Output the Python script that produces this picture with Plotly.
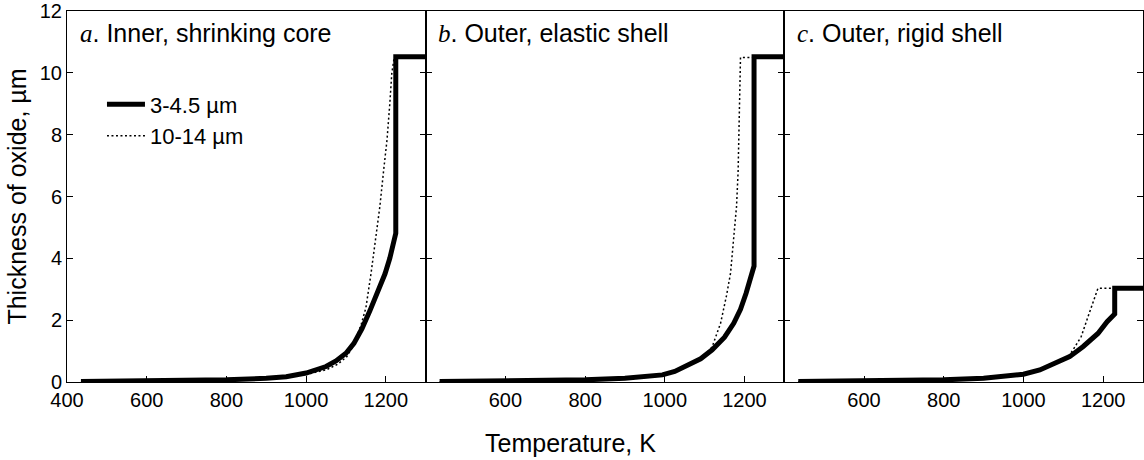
import plotly.graph_objects as go

# ---------------- data ----------------
# Panel a: Inner, shrinking core
a_small_T = [435, 600, 700, 800, 900, 950, 1000, 1025, 1050, 1075, 1100, 1120, 1140, 1160, 1180, 1198, 1210, 1217, 1225, 1225, 1300]
a_small_y = [0.02, 0.03, 0.04, 0.07, 0.12, 0.17, 0.29, 0.38, 0.50, 0.68, 0.93, 1.25, 1.72, 2.3, 2.95, 3.5, 4.0, 4.38, 4.81, 10.52, 10.52]
a_large_T = [435, 600, 800, 900, 1000, 1052, 1080, 1102, 1120, 1139, 1150, 1163, 1175, 1185, 1195, 1203, 1210, 1215, 1221, 1300]
a_large_y = [0.01, 0.02, 0.05, 0.10, 0.24, 0.40, 0.58, 0.82, 1.2, 1.9, 2.4, 3.52, 4.6, 5.67, 6.9, 7.83, 9.0, 9.98, 10.5, 10.5]

# Panel b: Outer, elastic shell
b_small_T = [435, 600, 800, 900, 994, 1025, 1052, 1090, 1119, 1150, 1173, 1190, 1204, 1215, 1224, 1224, 1300]
b_small_y = [0.02, 0.03, 0.07, 0.12, 0.23, 0.34, 0.50, 0.75, 1.04, 1.45, 1.9, 2.35, 2.87, 3.35, 3.75, 10.52, 10.52]
b_large_T = [435, 600, 800, 900, 1000, 1050, 1100, 1119, 1140, 1155, 1165, 1173, 1180, 1184, 1186, 1188, 1190, 1224]
b_large_y = [0.01, 0.02, 0.06, 0.11, 0.23, 0.48, 0.85, 1.14, 1.9, 2.8, 3.52, 4.6, 5.67, 6.8, 7.83, 9.0, 10.5, 10.5]

# Panel c: Outer, rigid shell
c_small_T = [435, 600, 800, 900, 1000, 1041, 1080, 1116, 1150, 1170, 1187, 1210, 1229, 1229, 1300]
c_small_y = [0.02, 0.03, 0.07, 0.12, 0.25, 0.39, 0.60, 0.82, 1.15, 1.36, 1.57, 1.95, 2.2, 3.03, 3.03]
c_large_T = [435, 600, 800, 900, 1000, 1041, 1080, 1110, 1124, 1145, 1162, 1175, 1187, 1229]
c_large_y = [0.01, 0.02, 0.06, 0.11, 0.24, 0.38, 0.58, 0.78, 1.03, 1.47, 2.11, 2.6, 3.03, 3.03]

series_names = ["3-4.5 µm", "10-14 µm"]
panel_titles = ["<i><span style='font-family:Liberation Serif'>a</span></i>. Inner, shrinking core",
                "<i><span style='font-family:Liberation Serif'>b</span></i>. Outer, elastic shell",
                "<i><span style='font-family:Liberation Serif'>c</span></i>. Outer, rigid shell"]
y_ticks = [0, 2, 4, 6, 8, 10, 12]
x_ticks_a = [400, 600, 800, 1000, 1200]
x_ticks_bc = [600, 800, 1000, 1200]
x_title = "Temperature, K"
y_title = "Thickness of oxide, µm"

FONT = "Liberation Sans, Arial, sans-serif"
DOT = "2px,2.5px"

fig = go.Figure()
panels = [
    (a_small_T, a_small_y, a_large_T, a_large_y),
    (b_small_T, b_small_y, b_large_T, b_large_y),
    (c_small_T, c_small_y, c_large_T, c_large_y),
]
for i, (sT, sy, lT, ly) in enumerate(panels):
    xa = "x" if i == 0 else f"x{i+1}"
    ya = "y" if i == 0 else f"y{i+1}"
    fig.add_trace(go.Scatter(x=lT, y=ly, mode="lines", name=series_names[1],
                             line=dict(color="black", width=1.5, dash=DOT),
                             xaxis=xa, yaxis=ya, showlegend=False))
    fig.add_trace(go.Scatter(x=sT, y=sy, mode="lines", name=series_names[0],
                             line=dict(color="black", width=5),
                             xaxis=xa, yaxis=ya, showlegend=(i == 0),
                             legendrank=1, legendgroup="g1"))
    if i == 0:
        fig.add_trace(go.Scatter(x=[None], y=[None], mode="lines", name=series_names[1],
                                 line=dict(color="black", width=1.5, dash=DOT),
                                 xaxis=xa, yaxis=ya, showlegend=True,
                                 legendrank=2, legendgroup="g2"))

domains = [[0, 1/3], [1/3, 2/3], [2/3, 1]]
layout = dict(
    width=1144, height=460,
    margin=dict(l=67, r=1, t=11, b=78),
    plot_bgcolor="white", paper_bgcolor="white",
    font=dict(family=FONT, size=20, color="black"),
    showlegend=True,
    legend=dict(x=0.0325, y=0.805, xanchor="left", yanchor="top",
                bgcolor="rgba(0,0,0,0)", font=dict(size=22),
                itemwidth=38, tracegroupgap=0),
)
for i in range(3):
    sfx = "" if i == 0 else str(i + 1)
    layout["xaxis" + sfx] = dict(
        domain=domains[i], range=[400, 1300],
        tickvals=x_ticks_a if i == 0 else x_ticks_bc,
        ticks="inside", ticklen=6, tickcolor="black", tickwidth=1,
        showline=True, linecolor="black", linewidth=1, mirror=True,
        showgrid=False, zeroline=False, anchor="y" + sfx,
        tickfont=dict(size=20),
    )
    layout["yaxis" + sfx] = dict(
        domain=[0, 1], range=[0, 12], tickvals=y_ticks,
        showticklabels=(i == 0),
        ticks="inside", ticklen=6, tickcolor="black", tickwidth=1,
        showline=True, linecolor="black", linewidth=1, mirror="ticks",
        showgrid=False, zeroline=False, anchor="x" + sfx,
        tickfont=dict(size=20),
    )
layout["yaxis"]["title"] = dict(text=y_title, font=dict(size=25), standoff=6)
fig.update_layout(**layout)

# shared x-axis title (centred where the reference places it)
fig.add_annotation(text=x_title, xref="paper", yref="paper",
                   x=(570 - 67) / 1076, y=-(443 - 382) / 371,
                   xanchor="center", yanchor="middle", showarrow=False,
                   font=dict(size=25, family=FONT))

for i in range(3):
    sfx = "" if i == 0 else str(i + 1)
    fig.add_annotation(text=panel_titles[i], xref=("x" + sfx + " domain"), yref="y" + sfx + " domain",
                       x=0.03, y=0.94, xanchor="left", yanchor="middle", showarrow=False,
                       font=dict(size=25, family=FONT))

fig.write_html("out.html")
